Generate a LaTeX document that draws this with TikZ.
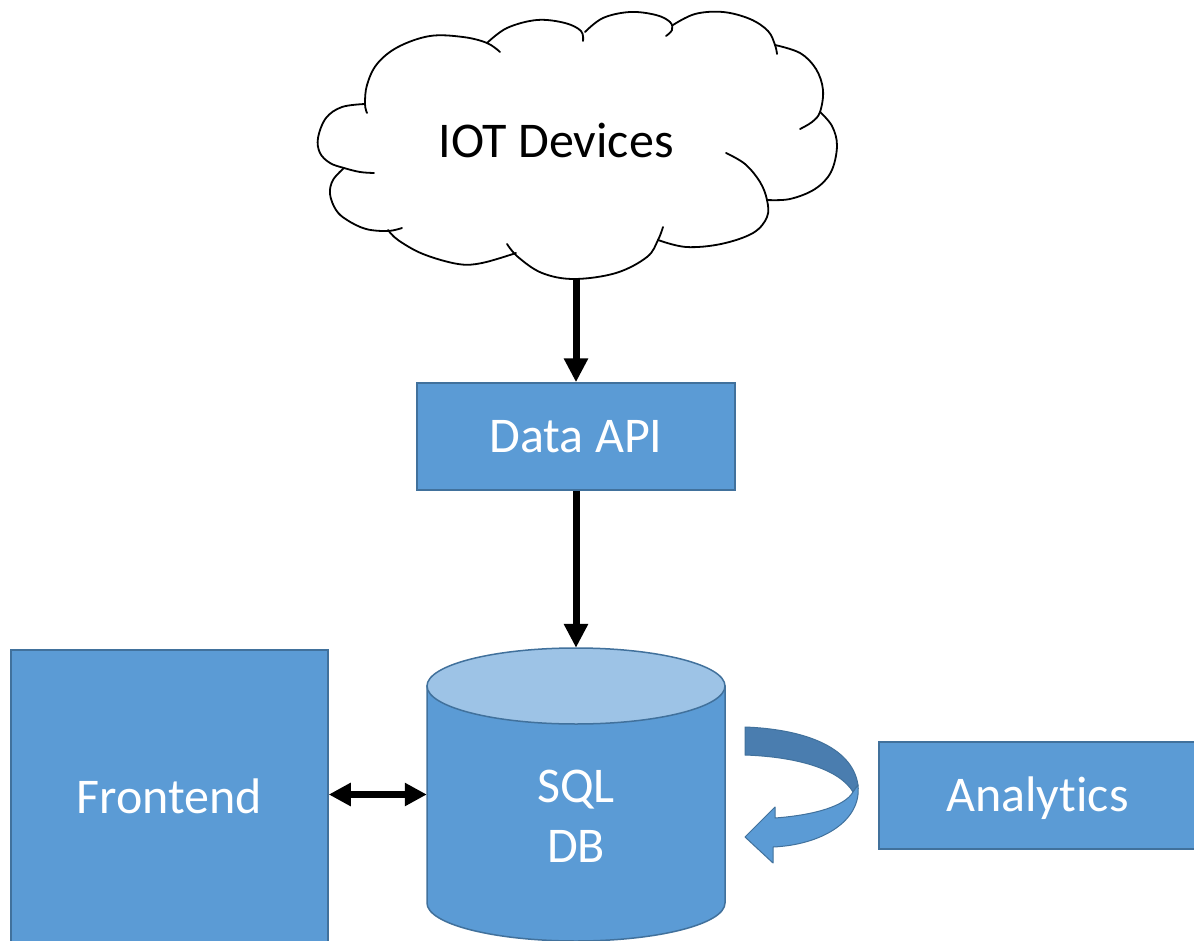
\documentclass[tikz,border=0pt]{standalone}
\usepackage{fontspec}
\setmainfont{Carlito}[Ligatures=CommonOff]
\usetikzlibrary{arrows.meta}
\definecolor{boxfill}{HTML}{5B9BD5}
\definecolor{boxline}{HTML}{41719C}
\definecolor{toplight}{HTML}{9DC3E6}
\definecolor{ribbondark}{HTML}{4A7DAF}
\begin{document}
\begin{tikzpicture}[x=1pt,y=-1pt,
  bigfont/.style={font=\fontsize{50}{60}\selectfont},
  box/.style={draw=boxline, line width=1.5pt, fill=boxfill, text=white, bigfont, text height=32pt, text depth=0pt, inner sep=0pt},
  conn/.style={line width=7pt, -{Triangle[length=24pt,width=23pt]}},
  conntwo/.style={line width=7pt, {Triangle[length=22pt,width=22pt]}-{Triangle[length=22pt,width=22pt]}},
  cloudline/.style={line width=1.8pt, line join=round, line cap=round},
  ribbon/.style={draw=boxline, line width=1pt, line join=round}]
\clip (0,0) rectangle (1194,941);
\fill[white] (0,0) rectangle (1194,941);

% cloud outline
\draw[cloudline] plot[smooth, tension=0.6] coordinates {(374,173) (360,172) (344,168) (330,163) (320,153) (318,138) (326,118) (342,107) (365,104)};
\draw[cloudline] plot[smooth, tension=0.6] coordinates {(367,113) (365,104) (367,85) (377,64) (398,47) (430,36) (463,37) (487,43) (500,52)};
\draw[cloudline] plot[smooth, tension=0.6] coordinates {(487,43) (507,28) (537,20) (565,23) (581,31) (583,41)};
\draw[cloudline] plot[smooth, tension=0.6] coordinates {(585,32) (603,18) (630,12) (656,15) (670,22) (672,30) (666,36)};
\draw[cloudline] plot[smooth, tension=0.6] coordinates {(673,25) (695,14) (723,12) (750,19) (768,31) (775,45) (777,54)};
\draw[cloudline] plot[smooth, tension=0.6] coordinates {(775,45) (800,53) (816,69) (823,90) (820,112) (812,122) (800,129)};
\draw[cloudline] plot[smooth, tension=0.6] coordinates {(820,112) (832,126) (837,146) (831,172) (815,189) (790,199) (767,200)};
\draw[cloudline] plot[smooth, tension=0.6] coordinates {(726,153) (745,164) (760,182) (767,200) (767,217) (753,233) (721,244) (686,247) (658,240)};
\draw[cloudline] plot[smooth, tension=0.6] coordinates {(663,227) (658,240) (647,257) (616,273) (574,279) (542,273) (518,257) (507,244)};
\draw[cloudline] plot[smooth, tension=0.6] coordinates {(516,253) (482,263) (458,264) (423,254) (398,240) (388,230)};
\draw[cloudline] plot[smooth, tension=0.6] coordinates {(344,168) (333,180) (330,194) (336,210) (347,220) (366,229) (388,231) (402,228)};
\node[bigfont, text height=32pt, text depth=0pt] (iot) at (556,142) {IOT Devices};
\coordinate (cloudbot) at (576,278);

% boxes
\node[box, minimum width=318pt, minimum height=107pt] (api) at (576,436.5) {Data API};
\node[box, minimum width=317pt, minimum height=295pt] (front) at (169.5,797.5) {Frontend};
\node[box, minimum width=317pt, minimum height=107pt] (ana) at (1037.5,795.5) {Analytics};

% database cylinder
\filldraw[fill=boxfill, draw=boxline, line width=1.5pt] (427,686) -- (427,903)
  .. controls (427,924) and (494,941) .. (576,941)
  .. controls (658,941) and (725,924) .. (725,903) -- (725,686) -- cycle;
\filldraw[fill=toplight, draw=boxline, line width=1.5pt] (576,686) ellipse [x radius=149pt, y radius=38pt];
\node[minimum width=298pt, minimum height=293pt, inner sep=0pt] (db) at (576,794.5) {};
\node[bigfont, text=white, align=center] (dbtext) at (576,816) {SQL\\DB};

% connectors
\draw[conn] (cloudbot) -- (api.north);
\draw[conn] (api.south) -- (db.north);
\draw[conntwo] (db.west -| front.east) -- (db.west);

% curved loop arrow
\filldraw[ribbon, fill=ribbondark] (745,727) .. controls (800,729) and (852,745) .. (858,785)
  -- (853,792) .. controls (840,770) and (800,757) .. (745,755) -- cycle;
\filldraw[ribbon, fill=boxfill] (858,785) .. controls (862,822) and (820,845) .. (773,847)
  -- (773,863) -- (745,837) -- (775,807) -- (775,818)
  .. controls (815,815) and (845,806) .. (853,792) -- cycle;
\end{tikzpicture}
\end{document}
